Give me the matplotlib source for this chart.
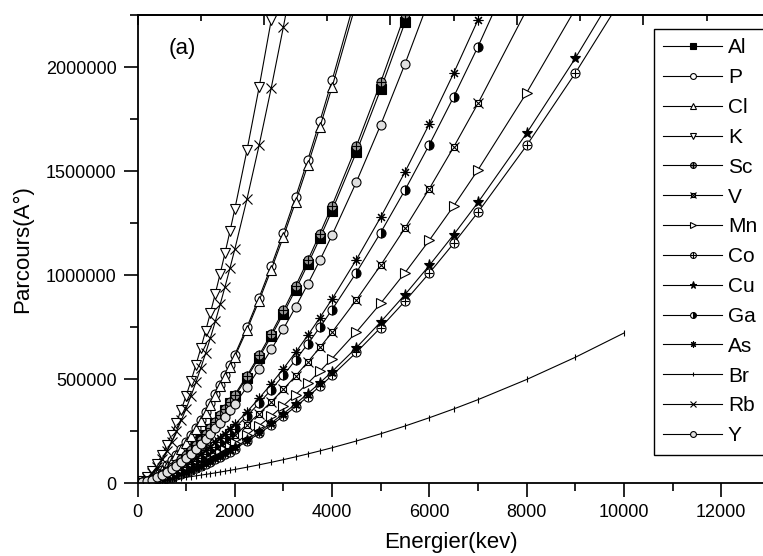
import matplotlib

matplotlib.use("Agg")
import matplotlib.pyplot as plt
from matplotlib.ticker import MultipleLocator, FixedLocator, NullLocator

plt.rcParams["font.family"] = ["Liberation Sans", "DejaVu Sans"]

# energies (keV) at which the ranges were computed
ENERGY = [100, 200, 300, 400, 500, 600, 700, 800, 900, 1000,
          1100, 1200, 1300, 1400, 1500, 1600, 1700, 1800, 1900, 2000,
          2250, 2500, 2750, 3000, 3250, 3500, 3750, 4000,
          4500, 5000, 5500, 6000, 6500, 7000, 8000, 9000, 10000]

# range (Angstrom) per ion, listed up to the first point past the top of the plot
AL = [3000, 9300, 18200, 29300, 42400, 57300, 73800, 92000, 111800, 133000,
      155700, 179700, 205100, 231700, 259700, 288800, 319200, 350800, 383500, 417400,
      506900, 603200, 705900, 814900, 930000, 1051000, 1177700, 1310000,
      1590900, 1893100, 2215300, 2557500]
P = [4400, 13800, 27000, 43300, 62600, 84600, 109100, 136000, 165100, 196500,
     230000, 265500, 303000, 342400, 383600, 426700, 471600, 518300, 566600, 616700,
     748900, 891200, 1042900, 1204000, 1374000, 1552700, 1739900, 1935400,
     2350500]
CL = [4300, 13600, 26500, 42600, 61600, 83200, 107300, 133800, 162500, 193300,
      226200, 261200, 298000, 336800, 377400, 419800, 464000, 509800, 557400, 606600,
      736700, 876700, 1026000, 1184400, 1351600, 1527400, 1711600, 1903900,
      2312200]
K = [9400, 29500, 57500, 92500, 133700, 180600, 232900, 290300, 352600, 419500,
     490900, 566700, 646800, 730900, 819000, 911000, 1006900, 1106500, 1209700, 1316500,
     1598900, 1902600, 2226500, 2570300]
SC = [3000, 9500, 18600, 29900, 43100, 58300, 75200, 93700, 113800, 135400,
      158500, 182900, 208800, 235900, 264300, 294100, 325000, 357100, 390400, 424900,
      516100, 614100, 718700, 829600, 946800, 1069900, 1198900, 1333600,
      1619600, 1927300, 2255300, 2603700]
V = [1700, 5200, 10100, 16200, 23500, 31700, 40900, 50900, 61900, 73600,
     86100, 99400, 113500, 128200, 143700, 159800, 176700, 194100, 212200, 231000,
     280500, 333800, 390600, 451000, 514600, 581600, 651700, 724900,
     880400, 1047600, 1225900, 1415300, 1615100, 1825200, 2275000]
MN = [1400, 4300, 8300, 13400, 19300, 26100, 33700, 42000, 51000, 60700,
      71000, 82000, 93600, 105800, 118500, 131800, 145700, 160100, 175000, 190500,
      231400, 275300, 322200, 371900, 424400, 479600, 537500, 597900,
      726100, 864000, 1011100, 1167200, 1332000, 1505300, 1876200, 2278500]
CO = [1200, 3700, 7200, 11600, 16700, 22600, 29200, 36300, 44100, 52500,
      61400, 70900, 80900, 91500, 102500, 114000, 126000, 138500, 151400, 164800,
      200100, 238100, 278700, 321700, 367100, 414900, 464900, 517100,
      628000, 747300, 874500, 1009600, 1152100, 1301900, 1622800, 1970700, 2345100]
CU = [1200, 3800, 7500, 12000, 17300, 23400, 30200, 37600, 45700, 54400,
      63700, 73500, 83900, 94800, 106200, 118100, 130600, 143500, 156900, 170700,
      207300, 246700, 288700, 333300, 380400, 429900, 481700, 535800,
      650700, 774300, 906100, 1046100, 1193800, 1349000, 1681500, 2042000, 2430000]
GA = [1900, 5900, 11600, 18700, 27000, 36400, 47000, 58500, 71100, 84600,
      99000, 114300, 130400, 147400, 165200, 183700, 203100, 223100, 244000, 265500,
      322400, 383700, 449000, 518400, 591600, 668500, 749100, 833300,
      1012000, 1204200, 1409100, 1626800, 1856500, 2098000, 2615000]
AS = [2000, 6300, 12300, 19800, 28600, 38700, 49900, 62100, 75500, 89800,
      105100, 121300, 138500, 156500, 175300, 195000, 215500, 236900, 259000, 281800,
      342300, 407300, 476600, 550200, 627900, 709600, 795200, 884500,
      1074200, 1278200, 1495800, 1726800, 1970600, 2226900]
BR = [2300, 4700, 7200, 9800, 12500, 15300, 18200, 21200, 24300, 27500,
      30800, 34200, 37700, 41300, 45000, 48800, 52700, 56700, 60800, 65000,
      75900, 87400, 99500, 112300, 125700, 139700, 154300, 169600,
      201900, 236700, 274000, 313800, 356000, 400700, 497600, 604300, 721000]
RB = [8000, 25200, 49100, 78900, 114100, 154100, 198700, 247700, 300900, 358000,
      419000, 483700, 552000, 623700, 698900, 777500, 859300, 944200, 1032300, 1123500,
      1364500, 1623700, 1900100, 2193500, 2503200]
Y = [2700, 8500, 16600, 26700, 38600, 52100, 67200, 83700, 101700, 121000,
     141600, 163500, 186600, 210800, 236200, 262800, 290400, 319100, 348900, 379700,
     461200, 548800, 642200, 741400, 846100, 956100, 1071400, 1191800,
     1447400, 1722300, 2015400, 2326800]

SERIES = [("Al", AL), ("P", P), ("Cl", CL), ("K", K), ("Sc", SC), ("V", V),
          ("Mn", MN), ("Co", CO), ("Cu", CU), ("Ga", GA), ("As", AS),
          ("Br", BR), ("Rb", RB), ("Y", Y)]

# marker layers per ion: the first one carries the line, the rest are overlaid symbols
MARKERS = {
    "Al": [dict(marker="s", mfc="black")],
    "P": [dict(marker="o", mfc="white")],
    "Cl": [dict(marker="^", mfc="white")],
    "K": [dict(marker="v", mfc="white")],
    "Sc": [dict(marker="o", mfc="0.6"), dict(marker="+")],
    "V": [dict(marker="s", mfc="white", ms=5), dict(marker="x")],
    "Mn": [dict(marker=">", mfc="white")],
    "Co": [dict(marker="o", mfc="white"), dict(marker="+", ms=6)],
    "Cu": [dict(marker="*", mfc="black", ms=8)],
    "Ga": [dict(marker="o", mfc="black", mfcalt="white", fillstyle="right")],
    "As": [dict(marker=(8, 2, 0), ms=7)],
    "Br": [dict(marker="|", ms=5)],
    "Rb": [dict(marker="x")],
    "Y": [dict(marker="o", mfc="0.88")],
}


def main():
    fig = plt.figure(figsize=(7.63, 5.56), dpi=100)
    ax = fig.add_axes([137.5 / 763, 73 / 556, (765 - 137.5) / 763, 468 / 556])

    handles = []
    for name, values in SERIES:
        xs = ENERGY[:len(values)]
        layers = []
        for i, style in enumerate(MARKERS[name]):
            kw = dict(color="black", mec="black", mew=0.8, ms=6.5, lw=0.8)
            kw.update(style)
            if i > 0:
                kw["ls"] = "none"
            (line,) = ax.plot(xs, values, **kw)
            layers.append(line)
        handles.append(tuple(layers))

    ax.set_xlim(0, 12900)
    ax.set_ylim(0, 2250000)
    ax.xaxis.set_major_locator(MultipleLocator(2000))
    ax.xaxis.set_minor_locator(MultipleLocator(1000))
    ax.yaxis.set_major_locator(MultipleLocator(500000))
    ax.yaxis.set_minor_locator(MultipleLocator(250000))
    ax.ticklabel_format(style="plain", useOffset=False)
    ax.tick_params(which="major", direction="out", length=10, width=1.2,
                   labelsize=13, pad=5)
    ax.tick_params(which="minor", direction="out", length=6, width=1.2)
    for spine in ax.spines.values():
        spine.set_linewidth(1.3)

    # opposite axes carry their own inward ticks, no labels
    top = ax.secondary_xaxis("top")
    top.xaxis.set_major_locator(MultipleLocator(2600))
    top.xaxis.set_minor_locator(MultipleLocator(1300))
    top.tick_params(which="major", direction="in", length=7, width=1.2, labeltop=False)
    top.tick_params(which="minor", direction="in", length=4, width=1.2)
    top.spines["top"].set_linewidth(1.3)

    right = ax.secondary_yaxis("right")
    right.yaxis.set_major_locator(FixedLocator([432700, 892700, 1352700, 1812700]))
    right.yaxis.set_minor_locator(NullLocator())
    right.tick_params(which="major", direction="in", length=6, width=1.2, labelright=False)

    ax.set_xlabel("Energier(kev)", fontsize=16, labelpad=8)
    ax.set_ylabel("Parcours(A°)", fontsize=16, labelpad=9)
    ax.text(0.071, 0.929, "(a)", transform=ax.transAxes, fontsize=16,
            ha="center", va="center")

    leg = ax.legend(handles, [n for n, _ in SERIES], loc="upper left",
                    bbox_to_anchor=(654 / 763, 1 - 29 / 556),
                    bbox_transform=fig.transFigure, fontsize=15,
                    frameon=True, fancybox=False, framealpha=1, edgecolor="black",
                    borderpad=0.45, handlelength=2.8, handletextpad=0.3,
                    labelspacing=0.52, markerscale=0.65, borderaxespad=0)
    leg.get_frame().set_linewidth(1.0)

    fig.savefig("out.png", dpi=100)
    plt.close(fig)


if __name__ == "__main__":
    main()
